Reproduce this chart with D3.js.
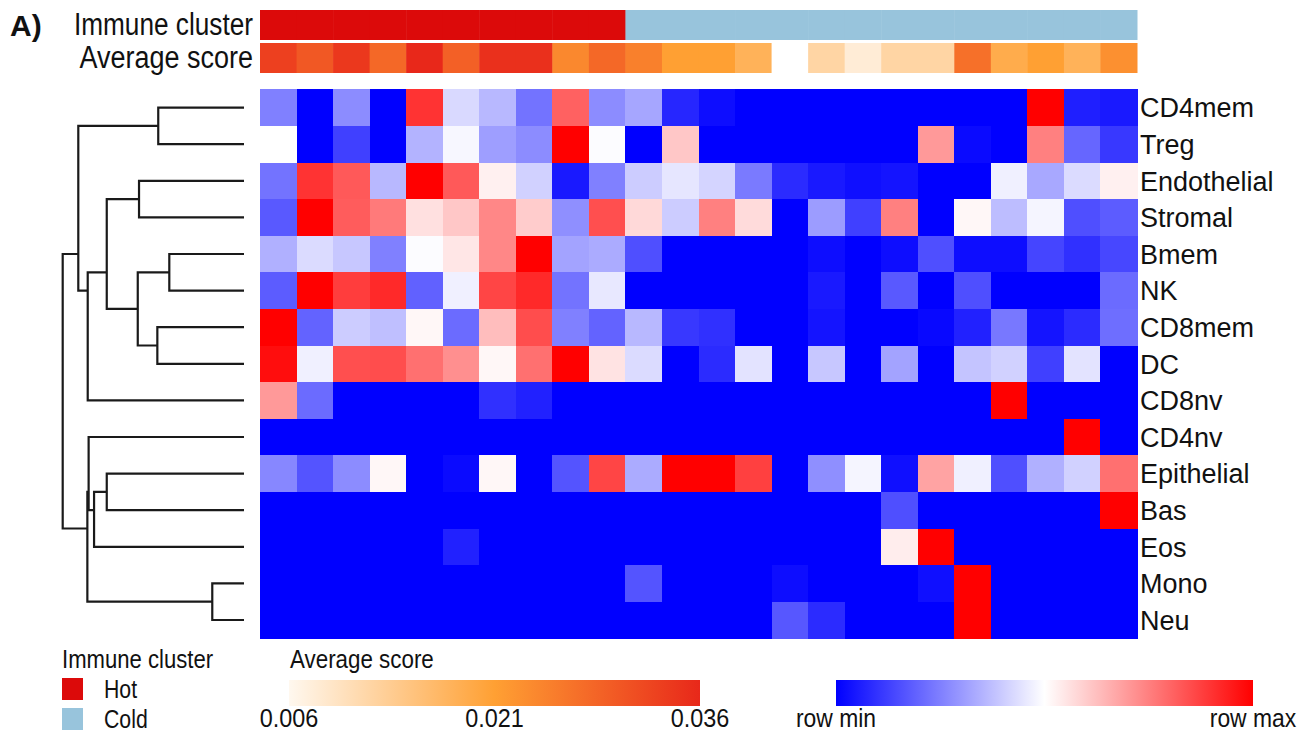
<!DOCTYPE html>
<html>
<head>
<meta charset="utf-8">
<script src="https://cdn.jsdelivr.net/npm/d3@7"></script>
<style>
  body { margin: 0; background: #fff; }
  text { font-family: "Liberation Sans", Arial, sans-serif; fill: #111; }
</style>
</head>
<body>
<svg width="1308" height="732"></svg>
<script>
// row order as drawn (after clustering)
var rows = ["CD4mem","Treg","Endothelial","Stromal","Bmem","NK","CD8mem","DC",
            "CD8nv","CD4nv","Epithelial","Bas","Eos","Mono","Neu"];

// immune cluster per sample (24 columns)
var clusters = ["Hot","Hot","Hot","Hot","Hot","Hot","Hot","Hot","Hot","Hot",
  "Cold","Cold","Cold","Cold","Cold","Cold","Cold","Cold","Cold","Cold","Cold","Cold","Cold","Cold"];

// average score per sample, null = missing
var avgScore = [0.033,0.030,0.034,0.028,0.036,0.029,0.035,0.035,0.024,0.028,0.025,0.021,
                0.021,0.018,null,0.012,0.008,0.012,0.012,0.027,0.019,0.021,0.018,0.023];

// row-scaled values, -1 = row min, 1 = row max
var values = [
  [-0.5,-1,-0.45,-1,0.8,-0.15,-0.28,-0.55,0.62,-0.45,-0.35,-0.85,-0.95,-1,-1,-1,-1,-1,-1,-1,-1,1,-0.88,-0.9],
  [0,-1,-0.75,-1,-0.3,-0.03,-0.38,-0.45,1,-0.01,-1,0.22,-1,-1,-1,-1,-1,-1,0.4,-0.96,-1,0.5,-0.6,-0.78],
  [-0.55,0.8,0.65,-0.28,1,0.65,0.06,-0.18,-0.9,-0.5,-0.2,-0.1,-0.17,-0.52,-0.83,-0.9,-0.94,-0.92,-1,-1,-0.06,-0.34,-0.14,0.06],
  [-0.65,1,0.64,0.52,0.12,0.22,0.47,0.2,-0.44,0.69,0.15,-0.2,0.5,0.14,-1,-0.39,-0.75,0.5,-1,0.03,-0.26,-0.04,-0.69,-0.64],
  [-0.31,-0.14,-0.22,-0.5,-0.01,0.1,0.47,1,-0.36,-0.33,-0.69,-1,-1,-1,-1,-0.95,-1,-0.95,-0.69,-0.95,-0.95,-0.73,-0.81,-0.72],
  [-0.64,1,0.76,0.84,-0.62,-0.06,0.73,0.84,-0.55,-0.09,-1,-1,-1,-1,-1,-0.9,-1,-0.65,-1,-0.69,-1,-1,-1,-0.58],
  [1,-0.61,-0.2,-0.25,0.03,-0.58,0.26,0.7,-0.5,-0.61,-0.28,-0.78,-0.81,-1,-1,-0.92,-1,-1,-0.97,-0.87,-0.53,-0.92,-0.83,-0.57],
  [0.95,-0.06,0.69,0.7,0.56,0.44,0.03,0.56,1,0.11,-0.14,-1,-0.83,-0.11,-1,-0.22,-1,-0.36,-1,-0.23,-0.18,-0.75,-0.11,-1],
  [0.4,-0.58,-1,-1,-1,-1,-0.81,-0.87,-1,-1,-1,-1,-1,-1,-1,-1,-1,-1,-1,-1,1,-1,-1,-1],
  [-1,-1,-1,-1,-1,-1,-1,-1,-1,-1,-1,-1,-1,-1,-1,-1,-1,-1,-1,-1,-1,-1,1,-1],
  [-0.47,-0.67,-0.45,0.03,-1,-0.96,0.03,-1,-0.67,0.73,-0.33,1,1,0.75,-1,-0.44,-0.04,-0.94,0.36,-0.06,-0.69,-0.31,-0.18,0.56],
  [-1,-1,-1,-1,-1,-1,-1,-1,-1,-1,-1,-1,-1,-1,-1,-1,-1,-0.69,-1,-1,-1,-1,-1,1],
  [-1,-1,-1,-1,-1,-0.87,-1,-1,-1,-1,-1,-1,-1,-1,-1,-1,-1,0.07,1,-1,-1,-1,-1,-1],
  [-1,-1,-1,-1,-1,-1,-1,-1,-1,-1,-0.67,-1,-1,-1,-0.95,-1,-1,-1,-0.94,1,-1,-1,-1,-1],
  [-1,-1,-1,-1,-1,-1,-1,-1,-1,-1,-1,-1,-1,-1,-0.66,-0.83,-1,-1,-1,1,-1,-1,-1,-1]
];

// row dendrogram: [left, right, height]; strings are leaves, numbers point to earlier merges
var merges = [
  ["CD4mem","Treg",0.473],
  ["Endothelial","Stromal",0.579],
  ["Bmem","NK",0.412],
  ["CD8mem","DC",0.478],
  [2,3,0.586],
  [1,4,0.757],
  [5,"CD8nv",0.862],
  [0,6,0.914],
  ["Epithelial","Bas",0.757],
  [8,"Eos",0.827],
  ["CD4nv",9,0.857],
  ["Mono","Neu",0.175],
  [10,11,0.864],
  [7,12,1.0]
];

var scoreTicks = [0.006, 0.021, 0.036];

var svg = d3.select("svg");

// squeeze text horizontally to mimic the narrow font of the figure
function narrow(sel, k) {
  sel.each(function() {
    var w = this.getComputedTextLength();
    d3.select(this).attr("textLength", w * k).attr("lengthAdjust", "spacingAndGlyphs");
  });
}

var x = d3.scaleBand().domain(d3.range(values[0].length)).range([260, 1137]);
var y = d3.scaleBand().domain(rows).range([89.3, 638.3]);

var heat = d3.scaleLinear().domain([-1, 0, 1]).range(["#0000ff", "#ffffff", "#ff0000"]);
var scoreColor = d3.scaleLinear().domain(scoreTicks).range(["#fff8ef", "#ffa033", "#e8281a"]);
var clusterColor = d3.scaleOrdinal().domain(["Hot","Cold"]).range(["#dc0a0a", "#98c4dc"]);

// annotation rows
svg.append("g").selectAll("rect")
  .data(clusters)
  .join("rect")
  .attr("x", function(d, i) { return x(i); })
  .attr("y", 10)
  .attr("width", x.bandwidth() + 0.5)
  .attr("height", 30)
  .attr("fill", function(d) { return clusterColor(d); });

svg.append("g").selectAll("rect")
  .data(avgScore)
  .join("rect")
  .attr("x", function(d, i) { return x(i); })
  .attr("y", 43)
  .attr("width", x.bandwidth() + 0.5)
  .attr("height", 30)
  .attr("fill", function(d) { return d == null ? "#ffffff" : scoreColor(d); });

svg.append("text").attr("x", 10).attr("y", 36)
  .style("font-weight", "bold").style("font-size", "30px").text("A)");
svg.append("text").attr("x", 253).attr("y", 35).attr("text-anchor", "end")
  .style("font-size", "31px").text("Immune cluster").call(narrow, 0.845);
svg.append("text").attr("x", 253).attr("y", 68).attr("text-anchor", "end")
  .style("font-size", "31px").text("Average score").call(narrow, 0.87);

// heatmap cells
var cells = [];
values.forEach(function(row, r) {
  row.forEach(function(v, c) { cells.push({ row: rows[r], col: c, v: v }); });
});

svg.append("g")
  .attr("shape-rendering", "crispEdges")
  .selectAll("rect")
  .data(cells)
  .join("rect")
  .attr("x", function(d) { return x(d.col); })
  .attr("y", function(d) { return y(d.row); })
  .attr("width", x.bandwidth() + 0.5)
  .attr("height", y.bandwidth() + 0.5)
  .attr("fill", function(d) { return heat(d.v); });

// row labels
svg.append("g").selectAll("text")
  .data(rows)
  .join("text")
  .attr("x", 1140)
  .attr("y", function(d) { return y(d) + y.bandwidth() / 2; })
  .attr("dy", "0.36em")
  .style("font-size", "27px")
  .text(function(d) { return d; });

// dendrogram
var h = d3.scaleLinear().domain([0, 1]).range([244, 62.7]);
var nodes = [];
function info(ref) {
  if (typeof ref === "string") {
    var i = rows.indexOf(ref);
    return { lo: i, hi: i, height: 0 };
  }
  return nodes[ref];
}
merges.forEach(function(m) {
  var a = info(m[0]), b = info(m[1]);
  nodes.push({ a: a, b: b, lo: Math.min(a.lo, b.lo), hi: Math.max(a.hi, b.hi), height: m[2] });
});
function yPos(n) {
  // node sits at centre of its leaf range
  var mid = (n.lo + n.hi) / 2;
  return y.range()[0] + (mid + 0.5) * y.step();
}

var path = d3.path();
nodes.forEach(function(n) {
  var xn = h(n.height);
  var ya = yPos(n.a), yb = yPos(n.b);
  path.moveTo(h(n.a.height), ya);
  path.lineTo(xn, ya);
  path.lineTo(xn, yb);
  path.lineTo(h(n.b.height), yb);
});
svg.append("path")
  .attr("d", path.toString())
  .attr("fill", "none")
  .attr("stroke", "#1a1a1a")
  .attr("stroke-width", 2.2);

// legends
var leg = svg.append("g");
leg.append("text").attr("x", 62).attr("y", 668).style("font-size", "26px")
  .text("Immune cluster").call(narrow, 0.85);
leg.selectAll("rect.key")
  .data(clusterColor.domain())
  .join("rect")
  .attr("class", "key")
  .attr("x", 62)
  .attr("y", function(d, i) { return 678 + i * 30; })
  .attr("width", 21)
  .attr("height", 22)
  .attr("fill", function(d) { return clusterColor(d); });
leg.selectAll("text.key")
  .data(clusterColor.domain())
  .join("text")
  .attr("class", "key")
  .attr("x", 104)
  .attr("y", function(d, i) { return 689 + i * 30; })
  .attr("dy", "0.36em")
  .style("font-size", "25px")
  .text(function(d) { return d; })
  .call(narrow, 0.85);

var defs = svg.append("defs");
var g1 = defs.append("linearGradient").attr("id", "scoreGrad");
g1.selectAll("stop")
  .data(scoreTicks)
  .join("stop")
  .attr("offset", function(d, i) { return (i / (scoreTicks.length - 1) * 100) + "%"; })
  .attr("stop-color", function(d) { return scoreColor(d); });

var sx = d3.scaleLinear().domain([scoreTicks[0], scoreTicks[2]]).range([289, 700]);
leg.append("text").attr("x", 290).attr("y", 668).style("font-size", "26px")
  .text("Average score").call(narrow, 0.86);
leg.append("rect").attr("x", sx.range()[0]).attr("y", 680)
  .attr("width", sx.range()[1] - sx.range()[0]).attr("height", 26)
  .attr("fill", "url(#scoreGrad)");
leg.selectAll("text.tick")
  .data(scoreTicks)
  .join("text")
  .attr("class", "tick")
  .attr("x", function(d) { return sx(d); })
  .attr("y", 718)
  .attr("dy", "0.36em")
  .attr("text-anchor", "middle")
  .style("font-size", "26px")
  .text(function(d) { return d3.format(".3f")(d); })
  .call(narrow, 0.9);

var g2 = defs.append("linearGradient").attr("id", "rowGrad");
g2.selectAll("stop")
  .data([-1, 0, 1])
  .join("stop")
  .attr("offset", function(d) { return ((d + 1) * 50) + "%"; })
  .attr("stop-color", function(d) { return heat(d); });

var rx = d3.scaleLinear().domain([-1, 1]).range([836, 1253]);
leg.append("rect").attr("x", rx(-1)).attr("y", 680)
  .attr("width", rx(1) - rx(-1)).attr("height", 26)
  .attr("fill", "url(#rowGrad)");
leg.selectAll("text.rowlab")
  .data([[-1, "row min"], [1, "row max"]])
  .join("text")
  .attr("class", "rowlab")
  .attr("x", function(d) { return rx(d[0]); })
  .attr("y", 718)
  .attr("dy", "0.36em")
  .attr("text-anchor", "middle")
  .style("font-size", "26px")
  .text(function(d) { return d[1]; })
  .call(narrow, 0.88);
</script>
</body>
</html>
